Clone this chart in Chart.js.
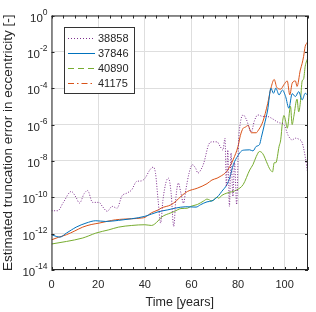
<!DOCTYPE html>
<html>
<head>
<meta charset="utf-8">
<script src="https://cdn.jsdelivr.net/npm/chart.js@4.4.0/dist/chart.umd.min.js"></script>
<style>
  html, body { margin: 0; padding: 0; background: #fff; }
  #wrap { width: 316px; height: 312px; position: relative; }
</style>
</head>
<body>
<div id="wrap"><canvas id="chart"></canvas></div>
<script>
// values: time in years, error as log10 exponent
const t38858 = [0, 2.7, 5, 8.5, 10.5, 12, 14, 15.5, 17.6, 20.4, 21.8, 23.9, 26, 28.1, 30.2, 32.3, 34.4, 36.5, 38.5, 40.1, 42.2, 43.6, 44.6, 45.7, 46.8, 47.8, 49.2, 50.2, 51.3, 52.4, 53.4, 54.4, 55.5, 56.6, 57.6, 59, 60.4, 61.8, 62.8, 64, 65.3, 67.4, 69, 71, 72.3, 73.5, 74.4, 75, 75.6, 76.3, 77, 77.8, 78.5, 79.4, 80.2, 81, 82.2, 83.5, 85.7, 87, 88.5, 90.5, 92.7, 95, 97.6, 99.7, 101.5, 103.2, 104.6, 106, 107.5, 108.8, 110];
const e38858 = [-10.74, -10.74, -10.3, -9.68, -10.0, -10.32, -9.8, -9.63, -10.28, -10.28, -10.5, -10.77, -10.5, -10.6, -9.93, -9.77, -9.59, -9.13, -9.1, -8.95, -8.49, -8.34, -8.67, -10.14, -11.42, -10.14, -9.13, -8.95, -9.77, -11.6, -9.95, -9.22, -9.77, -10.32, -9.59, -8.67, -8.21, -8.4, -8.67, -8.5, -8.12, -7.1, -6.95, -6.95, -7.2, -7.4, -6.75, -9.4, -7.4, -10.5, -7.56, -9.95, -8.1, -10.4, -7.0, -5.9, -5.47, -5.7, -6.4, -5.8, -5.47, -5.55, -5.56, -5.7, -5.9, -6.0, -6.6, -6.84, -6.75, -6.8, -7.0, -7.76, -8.8];

const t37846 = [0, 2, 3.6, 6.4, 8.5, 10.6, 14.8, 19, 23.2, 28.8, 34.4, 40, 45.7, 49.9, 53, 57.6, 62, 63.9, 66.7, 68.8, 71.7, 73, 75.2, 76.5, 78, 80, 81.5, 83, 85, 86.4, 87.8, 89.2, 90, 91.3, 92.7, 94.1, 95.2, 96.2, 97.6, 99, 100.4, 101.8, 103.2, 104.6, 106, 107.5, 108.8, 110];
const e37846 = [-12.06, -12.15, -12.19, -11.97, -11.8, -11.64, -11.42, -11.29, -11.33, -11.27, -11.18, -11.05, -10.8, -10.69, -10.6, -10.52, -10.54, -10.41, -10.25, -10.2, -9.9, -9.68, -9.31, -8.9, -8.2, -7.7, -7.45, -7.4, -7.39, -7.45, -7.2, -7.1, -6.7, -6.0, -5.2, -4.0, -4.28, -4.0, -4.37, -4.1, -4.46, -5.1, -4.3, -4.46, -4.19, -4.64, -4.28, -4.4];

const t40890 = [0, 6.4, 13.4, 16, 19, 24.6, 28.8, 34.4, 40, 42.9, 45.7, 47.1, 51.3, 52.7, 55.5, 58.3, 59.7, 62.5, 65.3, 66.7, 68.8, 71, 71.7, 73, 75.2, 77.3, 79.4, 82.2, 85, 86.4, 87.8, 89.2, 90.6, 92.7, 93.4, 94.8, 95.5, 96.2, 97.6, 98.3, 99, 99.7, 100.4, 101.1, 102.5, 103.2, 103.9, 105.3, 106, 106.7, 107.5, 108.1, 108.8, 110];
const e40890 = [-12.57, -12.43, -12.24, -12.12, -11.97, -11.79, -11.64, -11.55, -11.51, -11.55, -11.3, -11.1, -10.85, -10.78, -10.62, -10.6, -10.5, -10.4, -10.2, -10.1, -10.2, -10.0, -10.05, -9.9, -9.77, -9.7, -9.6, -9.3, -8.5, -8.2, -7.76, -7.48, -7.6, -8.2, -8.4, -8.6, -8.1, -8.1, -7.2, -6.84, -5.92, -5.5, -5.8, -6.2, -5.0, -6.0, -5.56, -4.6, -5.3, -4.8, -3.6, -3.5, -2.8, -2.3];

const t41175 = [0, 3, 6.4, 10, 13.4, 17, 20.4, 24, 27.4, 31, 34.4, 38.7, 40.1, 42.9, 45.7, 47.1, 51.3, 53.5, 55.5, 58.3, 62.5, 66.7, 68.8, 71, 72.3, 75, 76.5, 78, 80, 81, 82.2, 83, 84.3, 85.7, 87.8, 88.5, 90.6, 92.7, 94.1, 95.5, 96.6, 98.3, 99.7, 101.1, 102.2, 103.2, 104.6, 105.3, 106.7, 107.5, 108.1, 108.8, 109.6, 110];
const e41175 = [-12.34, -12.2, -12.06, -11.85, -11.64, -11.5, -11.42, -11.32, -11.24, -11.2, -11.18, -11.14, -11.1, -10.85, -10.7, -10.59, -10.41, -10.2, -9.95, -9.68, -9.5, -9.25, -9.05, -8.95, -8.86, -8.6, -8.3, -7.9, -7.2, -6.6, -6.2, -6.15, -6.05, -6.45, -6.45, -6.35, -5.85, -4.85, -4.0, -3.52, -3.95, -4.05, -3.8, -3.6, -4.37, -3.73, -3.6, -3.9, -3.0, -2.63, -2.26, -1.7, -1.5, -1.4];

const seriesNames = ['38858', '37846', '40890', '41175'];
const seriesColors = ['#7E2F8E', '#0072BD', '#77AC30', '#D95319'];
const legendDash = [[1, 2], [], [6, 4], [6, 3, 1.5, 3]];
const yTickExp = [0, -2, -4, -6, -8, -10, -12, -14];
const xTickLabels = [0, 20, 40, 60, 80, 100];

const FONT = "'Liberation Sans', Arial, sans-serif";
const TEXT = '#262626';

function toPoints(ts, es) {
    return ts.map((t, i) => ({ x: t, y: Math.pow(10, es[i]) }));
}

const allT = [t38858, t37846, t40890, t41175];
const allE = [e38858, e37846, e40890, e41175];

const datasets = seriesNames.map((name, i) => ({
    label: name,
    data: toPoints(allT[i], allE[i]),
    borderColor: seriesColors[i],
    borderWidth: 1,
    borderDash: i === 0 ? [1, 1.6] : [],
    pointRadius: 0,
    fill: false,
    cubicInterpolationMode: 'monotone'
}));

// axes box, inward ticks, superscript tick labels and the legend
const matlabAxes = {
    id: 'matlabAxes',
    afterDraw(chart) {
        const { ctx, chartArea: a, scales: { x, y } } = chart;
        ctx.save();

        ctx.strokeStyle = TEXT;
        ctx.lineWidth = 1;
        ctx.strokeRect(a.left + 0.5, a.top + 0.5, a.right - a.left - 1, a.bottom - a.top - 1);

        ctx.beginPath();
        for (let v = 0; v <= 110; v += 5) {
            const px = Math.round(x.getPixelForValue(v)) + 0.5;
            ctx.moveTo(px, a.bottom); ctx.lineTo(px, a.bottom - 3);
            ctx.moveTo(px, a.top); ctx.lineTo(px, a.top + 3);
        }
        yTickExp.forEach(e => {
            const py = Math.round(y.getPixelForValue(Math.pow(10, e))) + 0.5;
            ctx.moveTo(a.left, py); ctx.lineTo(a.left + 3, py);
            ctx.moveTo(a.right, py); ctx.lineTo(a.right - 3, py);
        });
        ctx.stroke();

        // y tick labels 10^n
        ctx.fillStyle = TEXT;
        ctx.textBaseline = 'middle';
        ctx.textAlign = 'left';
        yTickExp.forEach(e => {
            const py = y.getPixelForValue(Math.pow(10, e));
            ctx.font = '11.5px ' + FONT;
            const w10 = ctx.measureText('10').width;
            ctx.font = '8.5px ' + FONT;
            const wExp = ctx.measureText(String(e)).width;
            const x0 = a.left - 4 - w10 - wExp;
            ctx.font = '11.5px ' + FONT;
            ctx.fillText('10', x0, py + 3);
            ctx.font = '8.5px ' + FONT;
            ctx.fillText(String(e), x0 + w10, py - 3);
        });

        // legend
        const lx = 64.5, ly = 27.5, lw = 70, lh = 66;
        ctx.fillStyle = '#fff';
        ctx.fillRect(lx, ly, lw, lh);
        ctx.strokeStyle = '#333';
        ctx.lineWidth = 1;
        ctx.strokeRect(lx, ly, lw, lh);
        ctx.font = '11px ' + FONT;
        seriesNames.forEach((name, i) => {
            const cy = 38 + i * 15;
            ctx.strokeStyle = seriesColors[i];
            ctx.lineWidth = 1;
            ctx.setLineDash(legendDash[i]);
            ctx.beginPath();
            ctx.moveTo(68, cy + 0.5); ctx.lineTo(95, cy + 0.5);
            ctx.stroke();
            ctx.setLineDash([]);
            ctx.fillStyle = TEXT;
            ctx.fillText(name, 98, cy + 0.5);
        });

        ctx.restore();
    }
};

new Chart(document.getElementById('chart'), {
    type: 'line',
    data: { datasets: datasets },
    options: {
        responsive: true,
        maintainAspectRatio: false,
        animation: false,
        layout: { padding: { top: 15.5, right: 4, left: 0, bottom: 0 } },
        plugins: { legend: { display: false }, tooltip: { enabled: false } },
        scales: {
            x: {
                type: 'linear',
                min: 0,
                max: 110,
                afterFit: s => { s.height = 42; },
                border: { display: false },
                grid: {
                    drawTicks: false,
                    color: c => xTickLabels.includes(c.tick.value) ? '#dedede' : 'rgba(0,0,0,0)'
                },
                ticks: {
                    stepSize: 5,
                    autoSkip: false,
                    maxRotation: 0,
                    padding: 8,
                    color: TEXT,
                    font: { family: FONT, size: 11 },
                    callback: v => xTickLabels.includes(v) ? String(v) : ''
                },
                title: {
                    display: true,
                    text: 'Time [years]',
                    color: TEXT,
                    font: { family: FONT, size: 12.5 },
                    padding: { top: 0, bottom: 2 }
                }
            },
            y: {
                type: 'logarithmic',
                min: 1e-14,
                max: 1,
                afterFit: s => { s.width = 51.5; },
                afterBuildTicks: s => { s.ticks = yTickExp.map(e => ({ value: Math.pow(10, e) })); },
                border: { display: false },
                grid: { drawTicks: false, color: '#dedede' },
                ticks: { display: false },
                title: {
                    display: true,
                    text: 'Estimated truncation error in eccentricity [-]',
                    color: TEXT,
                    font: { family: FONT, size: 13.5 },
                    padding: { top: 0, bottom: 0 }
                }
            }
        }
    },
    plugins: [matlabAxes]
});
</script>
</body>
</html>
